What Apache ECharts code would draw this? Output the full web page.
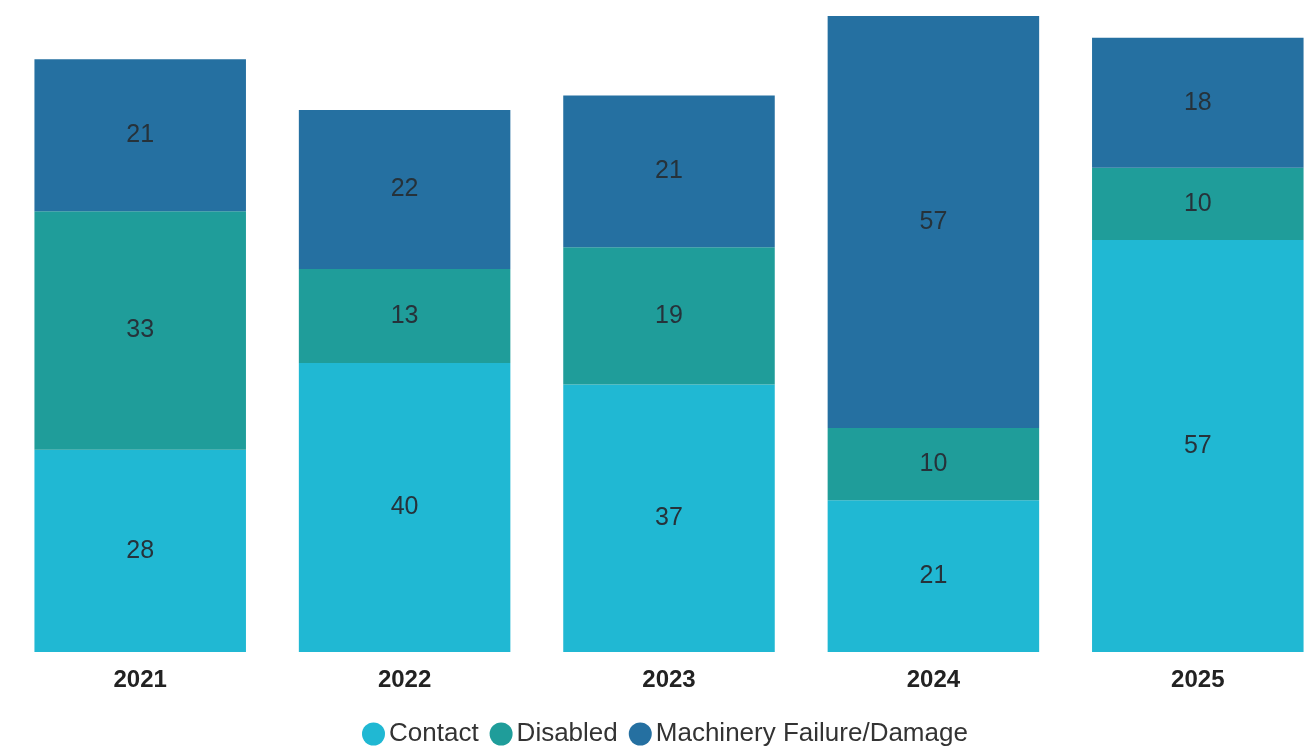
<!DOCTYPE html>
<html>
<head>
<meta charset="utf-8">
<script src="https://cdn.jsdelivr.net/npm/echarts@6/dist/echarts.min.js"></script>
<style>
  html, body { margin: 0; padding: 0; background: #ffffff; }
  #chart { width: 1306px; height: 747px; }
</style>
</head>
<body>
<div id="chart"></div>
<script>
const years = ['2021', '2022', '2023', '2024', '2025'];
const contact = [28, 40, 37, 21, 57];
const disabled = [33, 13, 19, 10, 10];
const machinery = [21, 22, 21, 57, 18];

const colors = {
  contact: '#20B8D3',
  disabled: '#1F9D9A',
  machinery: '#2570A1'
};

const chart = echarts.init(document.getElementById('chart'));

function stackSeries(name, data, color) {
  return {
    name: name,
    type: 'bar',
    stack: 'total',
    data: data,
    barWidth: '80%',
    itemStyle: { color: color },
    label: {
      show: true,
      position: 'inside',
      color: '#26323a',
      fontSize: 25,
      fontFamily: 'Liberation Sans, Arial, sans-serif'
    }
  };
}

chart.setOption({
  animation: false,
  grid: { left: 8, width: 1322, top: 16, bottom: 95, outerBoundsMode: 'none', containLabel: false },
  legend: {
    bottom: 0,
    left: 362,
    padding: 0,
    icon: 'circle',
    itemWidth: 23,
    itemHeight: 23,
    itemGap: 11,
    textStyle: {
      fontSize: 26,
      color: '#333333',
      fontFamily: 'Liberation Sans, Arial, sans-serif',
      padding: [0, 0, 0, -1]
    },
    data: ['Contact', 'Disabled', 'Machinery Failure/Damage']
  },
  xAxis: {
    type: 'category',
    data: years,
    axisLine: { show: false },
    axisTick: { show: false },
    axisLabel: {
      margin: 16,
      fontSize: 24,
      fontWeight: 'bold',
      color: '#222222',
      fontFamily: 'Liberation Sans, Arial, sans-serif'
    }
  },
  yAxis: {
    type: 'value',
    min: 0,
    max: 88,
    show: false,
    splitLine: { show: false }
  },
  series: [
    stackSeries('Contact', contact, colors.contact),
    stackSeries('Disabled', disabled, colors.disabled),
    stackSeries('Machinery Failure/Damage', machinery, colors.machinery)
  ]
});
</script>
</body>
</html>
